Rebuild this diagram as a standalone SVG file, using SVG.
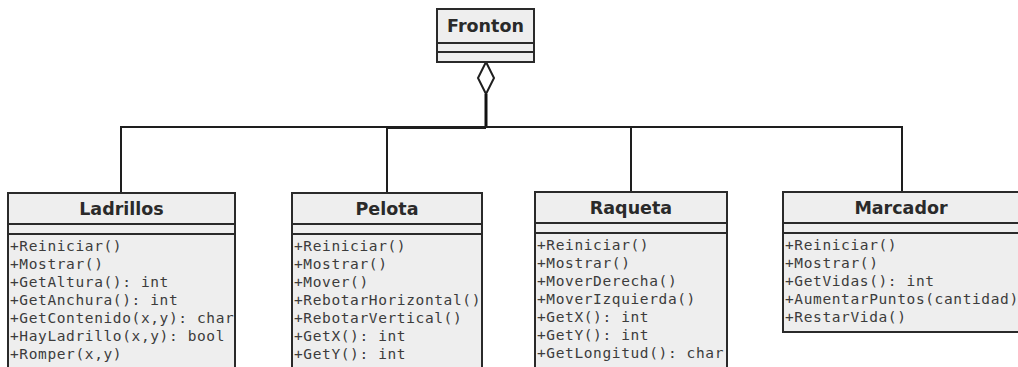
<svg xmlns="http://www.w3.org/2000/svg" width="1018" height="367" viewBox="0 0 1018 367">
  <style>
    .box { fill: #eeeeee; stroke: #2a2a2a; stroke-width: 2; }
    .sep { stroke: #2a2a2a; stroke-width: 2; fill: none; }
    .title { font-family: "DejaVu Sans", sans-serif; font-weight: bold; font-size: 17.5px; fill: #2a2a2a; text-anchor: middle; }
    .op { font-family: "DejaVu Sans Mono", "Liberation Mono", monospace; font-size: 14.5px; letter-spacing: 0.62px; fill: #3c3c3c; }
    .conn { stroke: #1e1e1e; stroke-width: 2; fill: none; }
  </style>
  <rect width="1018" height="367" fill="#ffffff"/>

  <!-- aggregation connectors -->
  <g id="connectors">
    <polygon points="486,62 494,78 486,94 478,78" fill="#ffffff" stroke="#1e1e1e" stroke-width="2"/>
    <line x1="486" y1="94" x2="486" y2="128" stroke="#111" stroke-width="3"/>
    <polyline class="conn" points="121,193 121,127 902,127 902,193"/>
    <line x1="387" y1="127" x2="387" y2="193" class="conn"/>
    <line x1="631" y1="127" x2="631" y2="193" class="conn"/>
    <line x1="387" y1="128" x2="486" y2="128" class="conn"/>
  </g>

  <g id="fronton">
    <rect class="box" x="437" y="9" width="97" height="53"/>
    <line class="sep" x1="437" y1="43" x2="534" y2="43"/>
    <line class="sep" x1="437" y1="52" x2="534" y2="52"/>
    <text class="title" x="485.5" y="32">Fronton</text>
  </g>

  <g id="ladrillos">
    <rect class="box" x="8" y="193" width="227" height="190"/>
    <line class="sep" x1="8" y1="224" x2="235" y2="224"/>
    <line class="sep" x1="8" y1="234" x2="235" y2="234"/>
    <text class="title" x="121.5" y="215">Ladrillos</text>
    <text class="op" x="10" y="251">+Reiniciar()</text>
    <text class="op" x="10" y="269">+Mostrar()</text>
    <text class="op" x="10" y="287">+GetAltura(): int</text>
    <text class="op" x="10" y="305">+GetAnchura(): int</text>
    <text class="op" x="10" y="323">+GetContenido(x,y): char</text>
    <text class="op" x="10" y="341">+HayLadrillo(x,y): bool</text>
    <text class="op" x="10" y="359">+Romper(x,y)</text>
  </g>

  <g id="pelota">
    <rect class="box" x="292" y="193" width="190" height="190"/>
    <line class="sep" x1="292" y1="224" x2="482" y2="224"/>
    <line class="sep" x1="292" y1="234" x2="482" y2="234"/>
    <text class="title" x="387" y="215">Pelota</text>
    <text class="op" x="294" y="251">+Reiniciar()</text>
    <text class="op" x="294" y="269">+Mostrar()</text>
    <text class="op" x="294" y="287">+Mover()</text>
    <text class="op" x="294" y="305">+RebotarHorizontal()</text>
    <text class="op" x="294" y="323">+RebotarVertical()</text>
    <text class="op" x="294" y="341">+GetX(): int</text>
    <text class="op" x="294" y="359">+GetY(): int</text>
  </g>

  <g id="raqueta">
    <rect class="box" x="535" y="192" width="192" height="190"/>
    <line class="sep" x1="535" y1="223" x2="727" y2="223"/>
    <line class="sep" x1="535" y1="233" x2="727" y2="233"/>
    <text class="title" x="631" y="214">Raqueta</text>
    <text class="op" x="537" y="250">+Reiniciar()</text>
    <text class="op" x="537" y="268">+Mostrar()</text>
    <text class="op" x="537" y="286">+MoverDerecha()</text>
    <text class="op" x="537" y="304">+MoverIzquierda()</text>
    <text class="op" x="537" y="322">+GetX(): int</text>
    <text class="op" x="537" y="340">+GetY(): int</text>
    <text class="op" x="537" y="358">+GetLongitud(): char</text>
  </g>

  <g id="marcador">
    <rect class="box" x="783" y="192" width="250" height="140"/>
    <line class="sep" x1="783" y1="223" x2="1033" y2="223"/>
    <line class="sep" x1="783" y1="233" x2="1033" y2="233"/>
    <text class="title" x="901" y="214">Marcador</text>
    <text class="op" x="785" y="250">+Reiniciar()</text>
    <text class="op" x="785" y="268">+Mostrar()</text>
    <text class="op" x="785" y="286">+GetVidas(): int</text>
    <text class="op" x="785" y="304">+AumentarPuntos(cantidad)</text>
    <text class="op" x="785" y="322">+RestarVida()</text>
  </g>
</svg>
